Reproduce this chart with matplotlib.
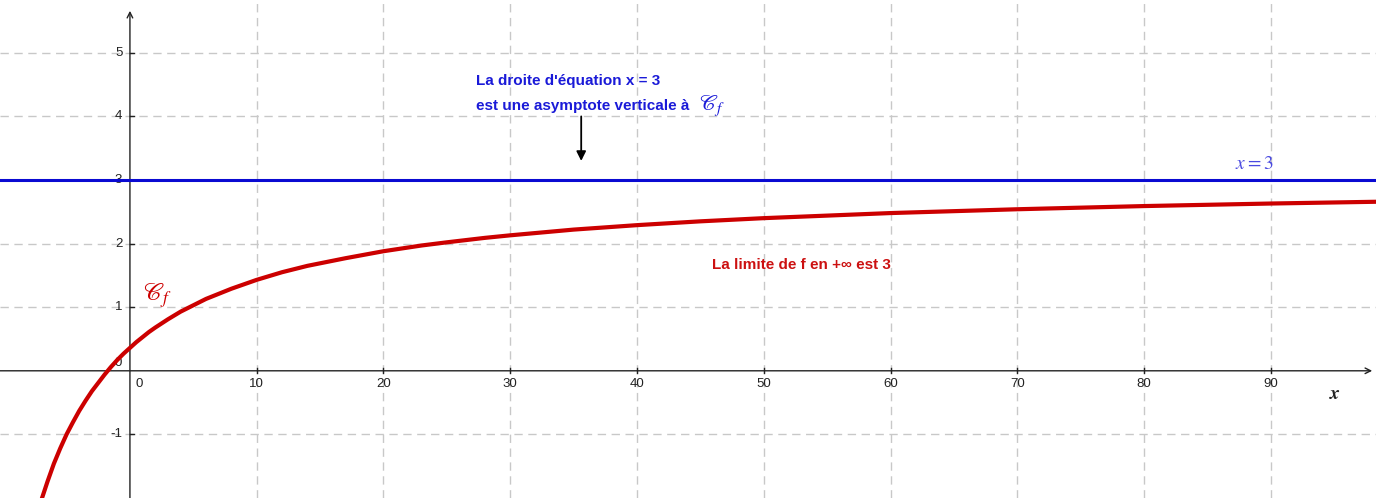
import matplotlib
matplotlib.use("Agg")
import matplotlib.pyplot as plt

plt.rcParams['font.family'] = ['Liberation Sans', 'DejaVu Sans']
plt.rcParams['mathtext.fontset'] = 'stix'

x_f = [-7.5, -7.25, -7, -6.5, -6, -5.5, -5, -4.5, -4, -3.5, -3, -2.5, -2, -1.5,
       -1, -0.5, 0, 0.5, 1, 1.5, 2, 3, 4, 5, 6, 7, 8, 9, 10, 12, 14, 15, 17,
       20, 23, 25, 28, 30, 35, 40, 45, 50, 55, 60, 70, 80, 90, 99]
y_f = [-2.39, -2.21, -2.04, -1.74, -1.46, -1.22, -1.0, -0.81, -0.63, -0.47,
       -0.32, -0.19, -0.06, 0.06, 0.17, 0.27, 0.36, 0.45, 0.53, 0.61, 0.68,
       0.81, 0.93, 1.03, 1.13, 1.21, 1.29, 1.36, 1.43, 1.55, 1.65, 1.69, 1.77,
       1.88, 1.97, 2.02, 2.09, 2.13, 2.22, 2.29, 2.35, 2.40, 2.44, 2.48, 2.54,
       2.59, 2.63, 2.66]

asymptote = 3
x_ticks = [10, 20, 30, 40, 50, 60, 70, 80, 90]
y_ticks = [-1, 1, 2, 3, 4, 5]

fig = plt.figure(figsize=(13.76, 4.98), dpi=100)
ax = fig.add_axes([0, 0, 1, 1])
ax.set_xlim(-10.25, 98.3)
ax.set_ylim(-2.0, 5.83)
ax.axis('off')

# grille
for xv in x_ticks:
    ax.axvline(xv, color='#c8c8c8', lw=1, ls=(0, (6, 4)), zorder=0)
for yv in y_ticks:
    ax.axhline(yv, color='#c8c8c8', lw=1, ls=(0, (6, 4)), zorder=0)

# axes
ax.annotate('', xy=(98.0, 0), xytext=(-10.3, 0),
            arrowprops=dict(arrowstyle='->', lw=1, color='#222222', shrinkA=0, shrinkB=0))
ax.annotate('', xy=(0, 5.66), xytext=(0, -2.1),
            arrowprops=dict(arrowstyle='->', lw=1, color='#222222', shrinkA=0, shrinkB=0))
for xv in x_ticks:
    ax.plot([xv, xv], [-0.04, 0.04], color='#222222', lw=1)
    ax.text(xv, -0.12, str(xv), ha='center', va='top', fontsize=9.5, color='#222222')
for yv in y_ticks:
    ax.plot([0, 0.35], [yv, yv], color='#222222', lw=1)
    ax.text(-0.6, yv, str(yv), ha='right', va='center', fontsize=9.5, color='#222222')
ax.text(0.75, -0.12, '0', ha='center', va='top', fontsize=9.5, color='#222222')
ax.text(-0.6, 0.12, '0', ha='right', va='center', fontsize=9.5, color='#222222')
ax.text(95.1, -0.38, r'$\boldsymbol{x}$', ha='center', va='center', fontsize=14, color='#222222')

# droite y = 3 et courbe
ax.axhline(asymptote, color='#0a0ad2', lw=2.2, zorder=3)
ax.plot(x_f, y_f, color='#cc0000', lw=3, zorder=4, solid_capstyle='round',
        solid_joinstyle='round')

# textes
ax.text(1.0, 1.18, r'$\mathscr{C}_f$', color='#cc0000', fontsize=18, va='center')
ax.text(88.7, 3.24, r'$x = 3$', color='#4848e0', fontsize=14, ha='center', va='center')
ax.text(27.3, 4.55, "La droite d'équation x = 3", color='#1a1ad8', fontsize=11,
        fontweight='bold', va='center')
ax.text(27.3, 4.17, "est une asymptote verticale à", color='#1a1ad8', fontsize=11,
        fontweight='bold', va='center')
ax.text(44.9, 4.17, r'$\mathscr{C}_f$', color='#1a1ad8', fontsize=16, va='center')
ax.annotate('', xy=(35.6, 3.3), xytext=(35.6, 4.0),
            arrowprops=dict(arrowstyle='-|>', lw=1.3, color='black', mutation_scale=14,
                            shrinkA=0, shrinkB=0))
ax.text(45.9, 1.67, 'La limite de f en +∞ est 3', color='#cc1111', fontsize=11,
        fontweight='bold', va='center')

fig.savefig('out.png', dpi=100)
